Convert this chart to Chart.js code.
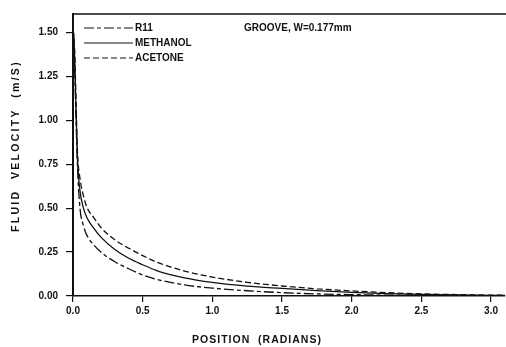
<!DOCTYPE html>
<html>
<head>
<meta charset="utf-8">
<script src="https://cdn.jsdelivr.net/npm/chart.js@4.4.1/dist/chart.umd.min.js"></script>
<style>
  html, body { margin: 0; padding: 0; background: #fff; }
  #wrap { width: 506px; height: 347px; }
</style>
</head>
<body>
<div id="wrap"><canvas id="chart" width="506" height="347"></canvas></div>
<script>
  // positions along the groove (radians)
  var positions = [0, 0.003, 0.012, 0.022, 0.032, 0.05, 0.075, 0.1, 0.15, 0.2, 0.3, 0.4, 0.5, 0.6, 0.8, 1.0, 1.25, 1.5, 1.75, 2.0, 2.25, 2.5, 2.75, 3.0, 3.1];

  // fluid velocity (m/s)
  var r11 = [0, 1.5, 1.3, 1.0, 0.74, 0.5, 0.4, 0.345, 0.29, 0.25, 0.195, 0.155, 0.12, 0.095, 0.063, 0.045, 0.03, 0.019, 0.012, 0.008, 0.005, 0.004, 0.003, 0.002, 0.002];
  var methanol = [0, 1.5, 1.35, 1.05, 0.78, 0.6, 0.5, 0.445, 0.385, 0.335, 0.265, 0.215, 0.178, 0.145, 0.103, 0.077, 0.056, 0.043, 0.031, 0.021, 0.014, 0.009, 0.006, 0.004, 0.003];
  var acetone = [0, 1.5, 1.4, 1.1, 0.82, 0.67, 0.57, 0.505, 0.445, 0.39, 0.32, 0.272, 0.23, 0.193, 0.142, 0.108, 0.078, 0.057, 0.041, 0.029, 0.019, 0.012, 0.008, 0.005, 0.004];

  var seriesNames = ["R11", "METHANOL", "ACETONE"];
  var xTicks = [0, 0.5, 1.0, 1.5, 2.0, 2.5, 3.0];
  var yTicks = [0, 0.25, 0.5, 0.75, 1.0, 1.25, 1.5];
  var note = "GROOVE, W=0.177mm";

  var ink = "#111";
  var font = "'Liberation Sans', Arial, sans-serif";
  var dashes = [[10, 3, 4, 3], [], [6, 3]];

  function points(ys) {
    return positions.map(function (x, i) { return { x: x, y: ys[i] }; });
  }

  // Legend, note, axis titles and top frame line
  var decor = {
    id: "decor",
    afterDraw: function (chart) {
      var c = chart.ctx;
      var a = chart.chartArea;
      c.save();
      c.strokeStyle = ink;
      c.lineWidth = 1.5;
      c.beginPath();
      c.moveTo(a.left, a.top);
      c.lineTo(a.right + 1, a.top);
      c.stroke();

      c.fillStyle = ink;
      c.font = "bold 10px " + font;
      c.textBaseline = "middle";
      seriesNames.forEach(function (name, i) {
        var y = 28 + i * 15;
        c.lineWidth = 1.2;
        c.setLineDash(dashes[i]);
        c.beginPath();
        c.moveTo(84, y);
        c.lineTo(133, y);
        c.stroke();
        c.setLineDash([]);
        c.fillText(name, 135, y);
      });
      c.fillText(note, 244, 28);

      c.textAlign = "center";
      c.font = "bold 10.5px " + font;
      c.letterSpacing = "1px";
      c.fillText("POSITION  (RADIANS)", 257, 340);
      c.letterSpacing = "2.3px";
      c.translate(16, 146);
      c.rotate(-Math.PI / 2);
      c.fillText("FLUID  VELOCITY  (m/S)", 0, 0);
      c.restore();
    }
  };

  var ctx = document.getElementById("chart").getContext("2d");
  var myChart = new Chart(ctx, {
    type: "line",
    data: {
      datasets: [r11, methanol, acetone].map(function (ys, i) {
        return {
          label: seriesNames[i],
          data: points(ys),
          borderColor: ink,
          borderWidth: 1.3,
          borderDash: dashes[i],
          pointRadius: 0,
          fill: false,
          cubicInterpolationMode: "monotone"
        };
      })
    },
    options: {
      responsive: false,
      animation: false,
      layout: { padding: { left: 0, top: 9, right: 1, bottom: 0 } },
      plugins: { legend: { display: false }, tooltip: { enabled: false } },
      scales: {
        x: {
          type: "linear",
          min: 0,
          max: 3.1,
          afterBuildTicks: function (s) { s.ticks = xTicks.map(function (v) { return { value: v }; }); },
          afterFit: function (s) { s.height = 51; },
          grid: { drawOnChartArea: false, drawTicks: true, tickLength: 6, color: ink, lineWidth: 1.2 },
          border: { color: ink, width: 1.5 },
          ticks: {
            color: ink,
            padding: 3,
            maxRotation: 0,
            font: { family: font, size: 10, weight: "bold" },
            callback: function (v) { return v.toFixed(1); }
          }
        },
        y: {
          min: 0,
          max: 1.605,
          afterBuildTicks: function (s) { s.ticks = yTicks.map(function (v) { return { value: v }; }); },
          afterFit: function (s) { s.width = 73; },
          grid: { drawOnChartArea: false, drawTicks: true, tickLength: 7, color: ink, lineWidth: 1.2 },
          border: { color: ink, width: 2 },
          ticks: {
            color: ink,
            padding: 8,
            font: { family: font, size: 10, weight: "bold" },
            callback: function (v) { return v.toFixed(2); }
          }
        }
      }
    },
    plugins: [decor]
  });
</script>
</body>
</html>
